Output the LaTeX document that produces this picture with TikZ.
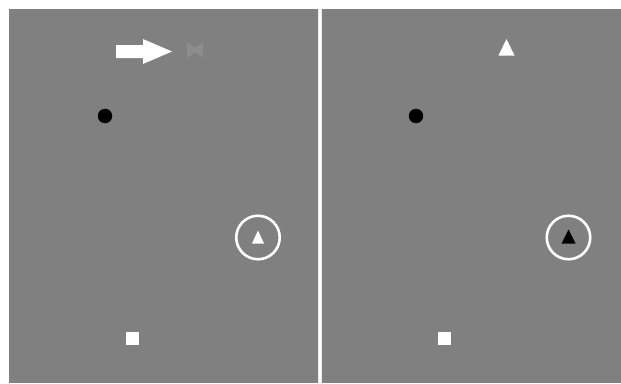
\documentclass[tikz,border=0pt]{standalone}
\usepackage{xcolor}
\usepackage{tikz}
\definecolor{screen}{HTML}{808080}
\definecolor{ghost}{HTML}{8D8D8D}

\begin{document}
\begin{tikzpicture}[x=1pt,y=-1pt,
     fix/.style={circle,fill=black,minimum size=14.5pt,inner sep=0pt},
     probe/.style={rectangle,fill=white,minimum size=13pt,inner sep=0pt},
     ring/.style={circle,draw=white,line width=2.6pt,minimum size=43.5pt,inner sep=0pt}]
    \useasboundingbox (0,0) rectangle (621,383);
    \fill[white] (0,0) rectangle (621,383);
    \fill[screen] (9,9) rectangle (621,383);
    \draw[white!85!screen,line width=3.4pt] (320,9) -- (320,383);
    \draw[white,line width=2pt] (320,9) -- (320,383);
    % left frame
    \node[fix](dotL) at (105,116){};
    \node[probe](sqL) at (132,338){};
    \node[ring](ringL) at (258,237.5){};
    \fill[white] (ringL.center) ++(-6,6) -- ++(6,-13) -- ++(6,13) -- cycle;
    \fill[white] (116,45) -- (143,45) -- (143,39) -- (172,51.5) -- (143,64) -- (143,58) -- (116,58) -- cycle;
    \fill[ghost] (187,42) -- (195,48) -- (203,42) -- (203,58) -- (195,52) -- (187,58) -- cycle;
    % right frame
    \node[fix](dotR) at (416,116){};
    \node[probe](sqR) at (444,338){};
    \node[ring](ringR) at (568.5,237.5){};
    \fill[black] (ringR.center) ++(-7,6) -- ++(7,-14) -- ++(7,14) -- cycle;
    \fill[white] (498.5,55.5) -- (506.5,39) -- (514.5,55.5) -- cycle;
  \end{tikzpicture}
\end{document}
